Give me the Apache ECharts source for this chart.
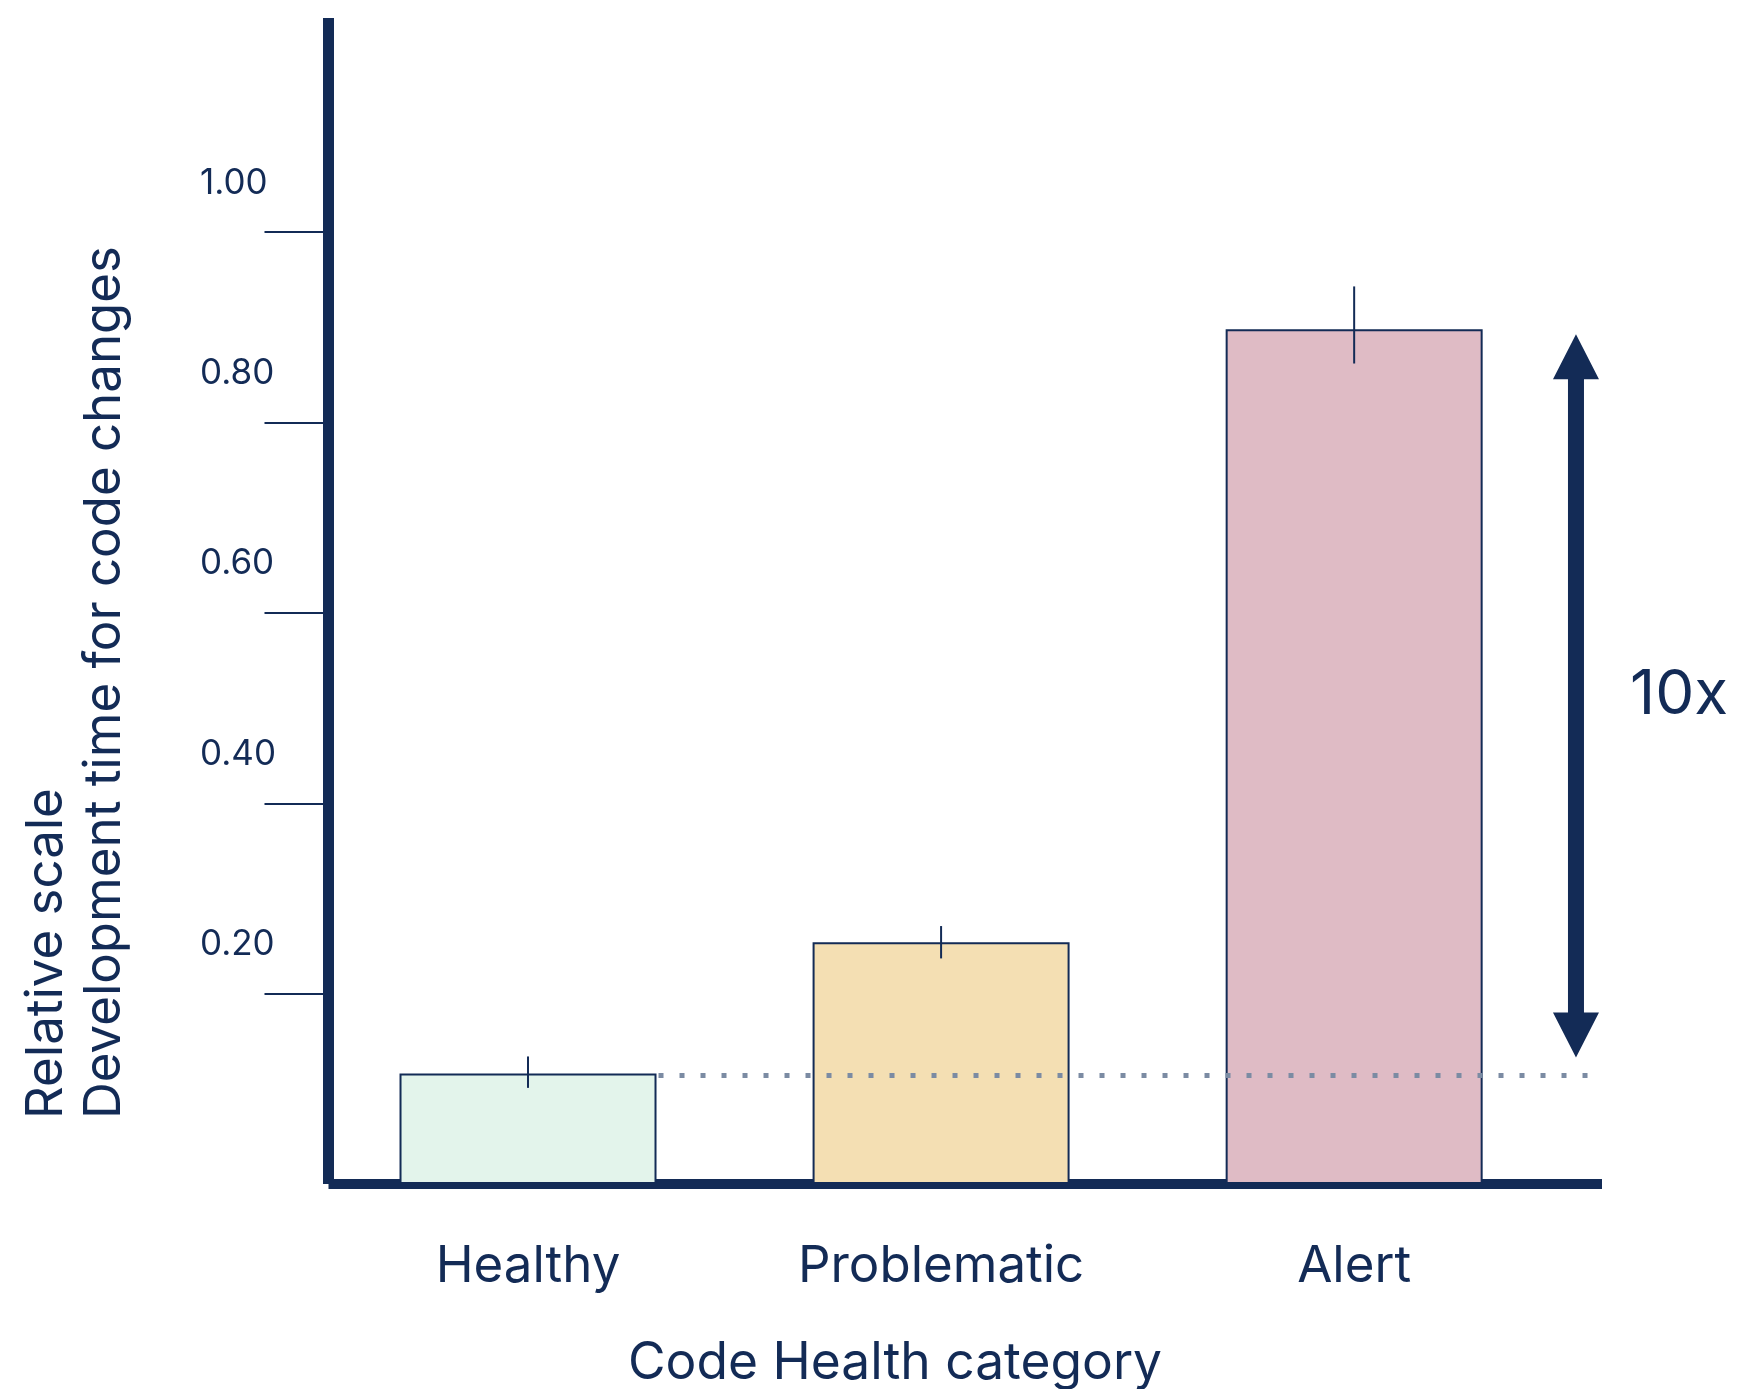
<!DOCTYPE html>
<html><head><meta charset="utf-8">
<script src="https://cdn.jsdelivr.net/npm/echarts@6/dist/echarts.min.js"></script>
<style>html,body{margin:0;padding:0;background:#fff}#c{width:1737px;height:1389px}</style>
</head><body><div id="c"></div>
<script>
const categories = ['Healthy', 'Problematic', 'Alert'];
const values = [0.116, 0.254, 0.898];
const errLow = [0.101, 0.237, 0.862];
const errHigh = [0.134, 0.271, 0.943];
const yTicks = [0.2, 0.4, 0.6, 0.8, 1.0];
const ratioLabel = '10x';
const yName = 'Relative scale\nDevelopment time for code changes';
const xName = 'Code Health category';

const barColors = ['#e3f4eb', '#f4dfb3', '#dfbbc5'];
const NAVY = '#132b56';
const FONT = 'Inter, "Noto Sans", sans-serif';
const BAR_W = 257;
const ARROW_X = 2.537;

const chart = echarts.init(document.getElementById('c'), null, {renderer: 'canvas'});

const option = {
  animation: false,
  backgroundColor: '#ffffff',
  grid: {left: 328.5, right: 135, top: 18, bottom: 205},
  xAxis: {
    type: 'value', min: -0.483, max: 2.6,
    axisLine: {onZero: false, lineStyle: {color: NAVY, width: 10, cap: 'butt'}},
    axisTick: {show: false},
    splitLine: {show: false},
    axisLabel: {
      customValues: [0, 1, 2],
      formatter: v => categories[Math.round(v)],
      color: NAVY, fontSize: 51, fontFamily: FONT, margin: 57
    }
  },
  yAxis: {
    type: 'value', min: 0, max: 1.225,
    axisLine: {show: true, onZero: false, lineStyle: {color: NAVY, width: 11, cap: 'butt'}},
    axisTick: {show: true, customValues: yTicks, length: 64, lineStyle: {color: NAVY, width: 2}},
    splitLine: {show: false},
    axisLabel: {
      customValues: yTicks,
      formatter: v => '{t|' + v.toFixed(2) + '}',
      align: 'left', margin: 128.5,
      rich: {t: {color: NAVY, fontSize: 35, fontFamily: FONT, align: 'left', verticalAlign: 'middle', padding: [0, 0, 98, 0]}}
    }
  },
  series: [
    {
      type: 'bar', barWidth: BAR_W, z: 2,
      itemStyle: {borderColor: NAVY, borderWidth: 2},
      data: values.map((v, i) => ({value: [i, v], itemStyle: {color: barColors[i]}}))
    },
    {
      type: 'custom', z: 4, clip: false,
      encode: {x: 0, y: [1, 2]},
      data: errLow.map((lo, i) => [i, lo, errHigh[i]]),
      renderItem: (params, api) => {
        const p1 = api.coord([api.value(0), api.value(1)]);
        const p2 = api.coord([api.value(0), api.value(2)]);
        return {type: 'line', shape: {x1: p1[0], y1: p1[1], x2: p2[0], y2: p2[1]},
                style: {stroke: NAVY, lineWidth: 2}};
      }
    },
    {
      type: 'custom', z: 3, clip: false,
      encode: {x: 0, y: [1, 2]},
      data: [[0, values[0], values[2]]],
      renderItem: (params, api) => {
        const h = api.coord([0, api.value(1)]);
        const a = api.coord([ARROW_X, api.value(2)]);
        const b = api.coord([ARROW_X, api.value(1)]);
        const x = a[0];
        const yTop = a[1] + 5, yBot = b[1] - 16;
        const hw = 23, hh = 45, sw = 8;
        return {
          type: 'group',
          children: [
            {type: 'line', shape: {x1: h[0] + BAR_W / 2 + 2, y1: h[1] + 2, x2: x + hw, y2: h[1] + 2},
             style: {stroke: '#7b8ba3', lineWidth: 5, lineDash: [5, 16], lineCap: 'butt'}},
            {type: 'polygon', shape: {points: [
              [x, yTop], [x + hw, yTop + hh], [x + sw, yTop + hh], [x + sw, yBot - hh],
              [x + hw, yBot - hh], [x, yBot], [x - hw, yBot - hh], [x - sw, yBot - hh],
              [x - sw, yTop + hh], [x - hw, yTop + hh]]},
             style: {fill: NAVY}}
          ]
        };
      }
    }
  ],
  graphic: [
    {type: 'text', x: 76, y: 1119, rotation: Math.PI / 2,
     style: {text: yName, fill: NAVY, fontSize: 51, fontFamily: FONT, align: 'left', verticalAlign: 'middle', lineHeight: 58}},
    {type: 'text', x: 895, y: 1364,
     style: {text: xName, fill: NAVY, fontSize: 51.5, fontFamily: FONT, align: 'center', verticalAlign: 'middle'}},
    {type: 'text', x: 1630, y: 695,
     style: {text: ratioLabel, fill: NAVY, fontSize: 62, fontFamily: FONT, align: 'left', verticalAlign: 'middle'}}
  ]
};
chart.setOption(option);
</script>
</body></html>
